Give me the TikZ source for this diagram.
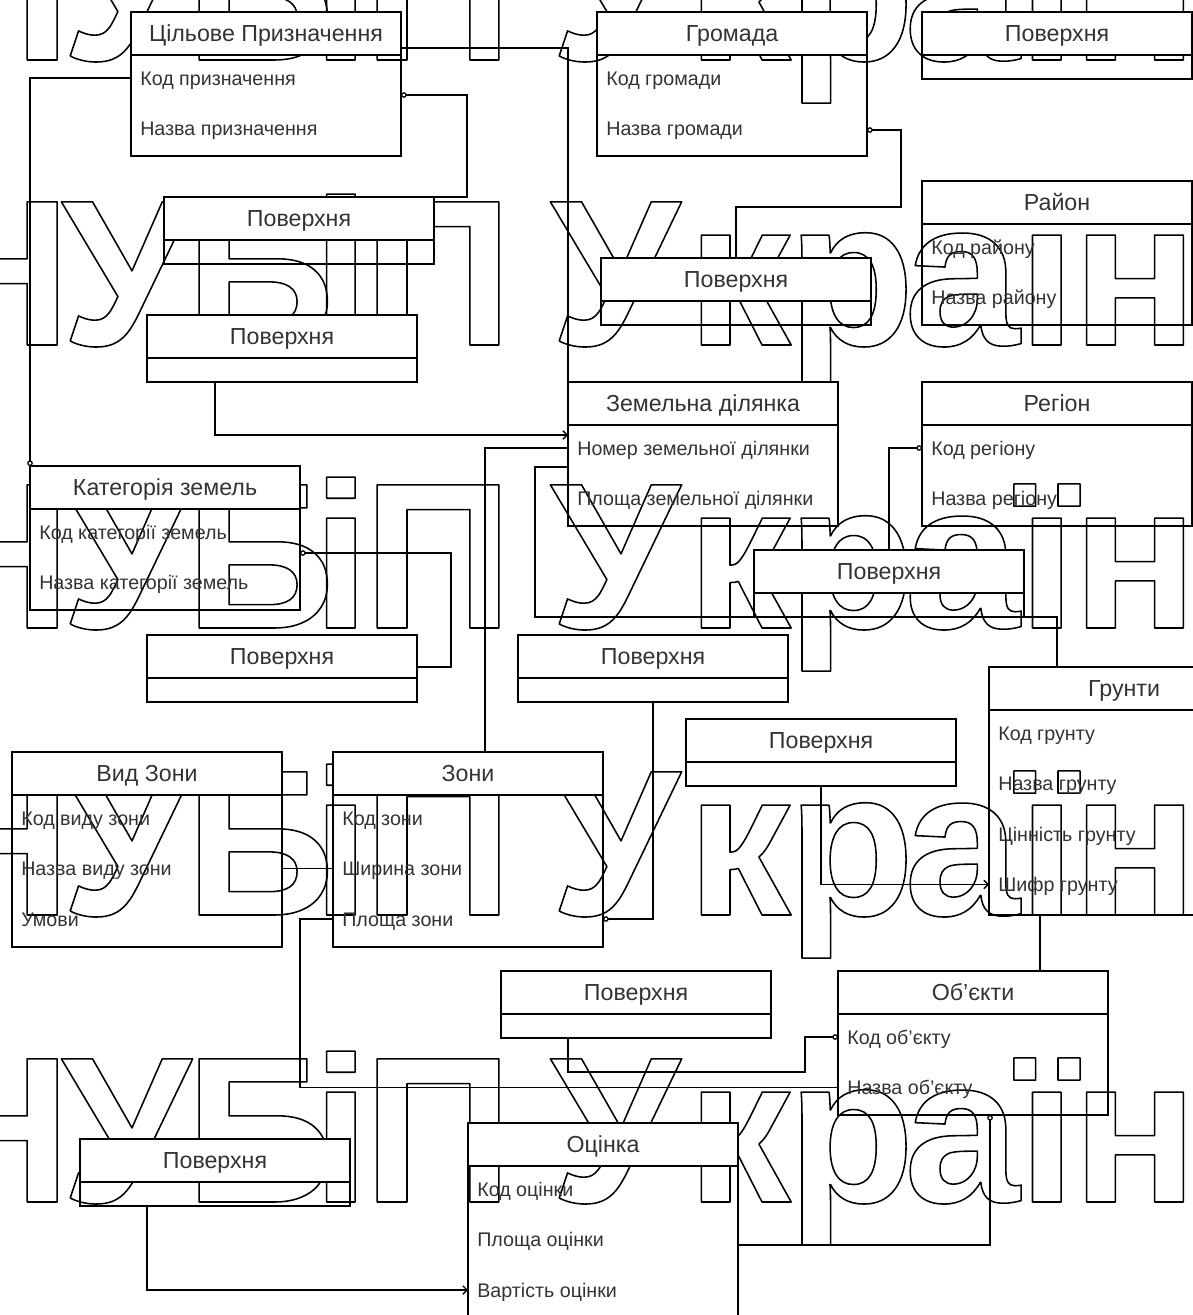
\documentclass[tikz,border=0pt]{standalone}
\usepackage{fontspec}
\setmainfont{Liberation Sans}
\newfontfamily\wmfont{Liberation Sans}
\usepackage{xcolor}
\definecolor{ertext}{RGB}{51,51,51}
\definecolor{erline}{RGB}{0,0,0}
\usetikzlibrary{arrows.meta, positioning, calc}

% outlined (stroked) letters for the background watermark
\newcommand{\wmletter}[1]{\special{pdf:literal direct 1 Tr 1 j 1.1 w}#1\special{pdf:literal direct 0 Tr}}

% entity box: name, x, y (top left, px), height (px), title
\newcommand{\erbox}[5]{%
  \node[entbody, minimum height=#4*0.025cm] (#1) at (#2,#3) {};
  \node[enthead] (#1-h) at (#2,#3) {#5};}
% attribute rows of an entity
\newcommand{\erattrs}[2]{%
  \foreach \a [count=\k] in {#2}
    \node[attr] (#1-\k) at ($(#1.north west)+(9,15.5+50.5*\k)$) {\a};}

\begin{document}
\begin{tikzpicture}[x=0.025cm, y=-0.025cm,
  entbody/.style={draw=erline, line width=1.2pt, minimum width=6.75cm,
    anchor=north west, inner sep=0pt, outer sep=0pt},
  enthead/.style={entbody, fill=white, minimum height=1.075cm, text=ertext,
    text height=11.8pt, text depth=0pt, font=\fontsize{16.5}{18}\selectfont},
  attr/.style={anchor=west, inner sep=0pt, text=ertext, text height=10pt, text depth=0pt,
    font=\fontsize{14}{16}\selectfont},
  link/.style={draw=erline, line width=0.9pt},
  ring/.style={-{Circle[open, length=4pt]}},
  barb/.style={-{Straight Barb[length=3pt, width=6pt]}},
  wm/.style={anchor=base, inner sep=0pt, font=\wmfont\bfseries\fontsize{148}{148}\selectfont}]

\fill[white] (0,0) rectangle (1192,1315);
\useasboundingbox (0,0) rectangle (1192,1315);

% --- watermark ---
\foreach \row [count=\i] in {60,345,628,915,1202} {
  \foreach \ch/\cx [count=\j] in {Н/-4, У/126, Б/260, і/341, П/438, У/615,
                                  к/739, р/851, а/962, ї/1047, н/1135, и/1255}
    \node[wm] (wm-\i-\j) at (\cx,\row) {\wmletter{\ch}};
}

% --- entities ---
\erbox{cil}{131}{12}{144}{Цільове Призначення}
\erattrs{cil}{Код призначення, Назва призначення}
\erbox{grom}{597}{12}{144}{Громада}
\erattrs{grom}{Код громади, Назва громади}
\erbox{rai}{922}{181}{144}{Район}
\erattrs{rai}{Код району, Назва району}
\erbox{zem}{568}{382}{144}{Земельна ділянка}
\erattrs{zem}{Номер земельної ділянки, Площа земельної ділянки}
\erbox{reg}{922}{382}{144}{Регіон}
\erattrs{reg}{Код регіону, Назва регіону}
\erbox{kat}{30}{466}{144}{Категорія земель}
\erattrs{kat}{Код категорії земель, Назва категорії земель}
\erbox{grunt}{989}{667}{248}{Грунти}
\erattrs{grunt}{Код грунту, Назва грунту, Цінність грунту, Шифр грунту}
\erbox{vid}{12}{752}{195}{Вид Зони}
\erattrs{vid}{Код виду зони, Назва виду зони, Умови}
\erbox{zoni}{333}{752}{195}{Зони}
\erattrs{zoni}{Код зони, Ширина зони, Площа зони}
\erbox{obj}{838}{971}{144}{Об'єкти}
\erattrs{obj}{Код об'єкту, Назва об'єкту}
\erbox{ocin}{468}{1123}{195}{Оцінка}
\erattrs{ocin}{Код оцінки, Площа оцінки, Вартість оцінки}

% --- surfaces ---
\erbox{pov1}{922}{12}{67}{Поверхня}
\erbox{pov2}{164}{197}{67}{Поверхня}
\erbox{pov3}{601}{258}{67}{Поверхня}
\erbox{pov4}{147}{315}{67}{Поверхня}
\erbox{pov5}{754}{550}{67}{Поверхня}
\erbox{pov6}{147}{635}{67}{Поверхня}
\erbox{pov7}{518}{635}{67}{Поверхня}
\erbox{pov8}{686}{719}{67}{Поверхня}
\erbox{pov9}{501}{971}{67}{Поверхня}
\erbox{pov10}{80}{1139}{67}{Поверхня}

% --- links ---
\draw[link] ([yshift=-0.36cm]cil-h.east) -| (zem.north west);
\draw[link, ring] (cil.west |- cil-1) -| (kat.north west);
\draw[link, ring] (pov2.north east) -- ++(33,0) |- ($(cil.north east)+(0,83)$);
\draw[link, {Circle[open, length=4pt]}-] ($(grom.north east)+(0,118)$) -- ++(34,0) -- ++(0,77) -| (pov3.north);
\draw[link, barb] ([xshift=-1.675cm]pov4.south) |- ($(zem.north west)+(0,53)$);
\draw[link] (zem.west |- zem-1) -| ([xshift=0.425cm]zoni.north);
\draw[link] ($(zem.north west)+(0,85)$) -- ++(-33,0) -- ++(0,150) -| ([xshift=-1.675cm]grunt.north);
\draw[link, ring] (pov5.north) |- (reg.west |- reg-1);
\draw[link, ring] ($(pov6.north east)+(0,32)$) -- ++(34,0) |- ($(kat.north east)+(0,87)$);
\draw[link] (vid.east |- vid-2) -- (zoni.west |- vid-2);
\draw[link] (zoni.west |- zoni-3) -- ++(-33,0) |- (obj.west |- obj-2);
\draw[link, ring] (pov7.south) |- (zoni.east |- zoni-3);
\draw[link, barb] (pov8.south) |- (grunt.west |- grunt-4);
\draw[link] ([xshift=-2.1cm]grunt.south) -- ([xshift=-2.1cm]grunt.south |- obj.north);
\draw[link, ring] ([xshift=-1.7cm]pov9.south) -- ++(0,34) -| ($(obj.west |- obj-1)+(-33,0)$) -- (obj.west |- obj-1);
\draw[link, barb] ([xshift=-1.7cm]pov10.south) |- (ocin.west |- ocin-3);
\draw[link, {Circle[open, length=4pt]}-] ([xshift=0.425cm]obj.south) |- ($(ocin.north east)+(0,122)$);

\end{tikzpicture}
\end{document}
